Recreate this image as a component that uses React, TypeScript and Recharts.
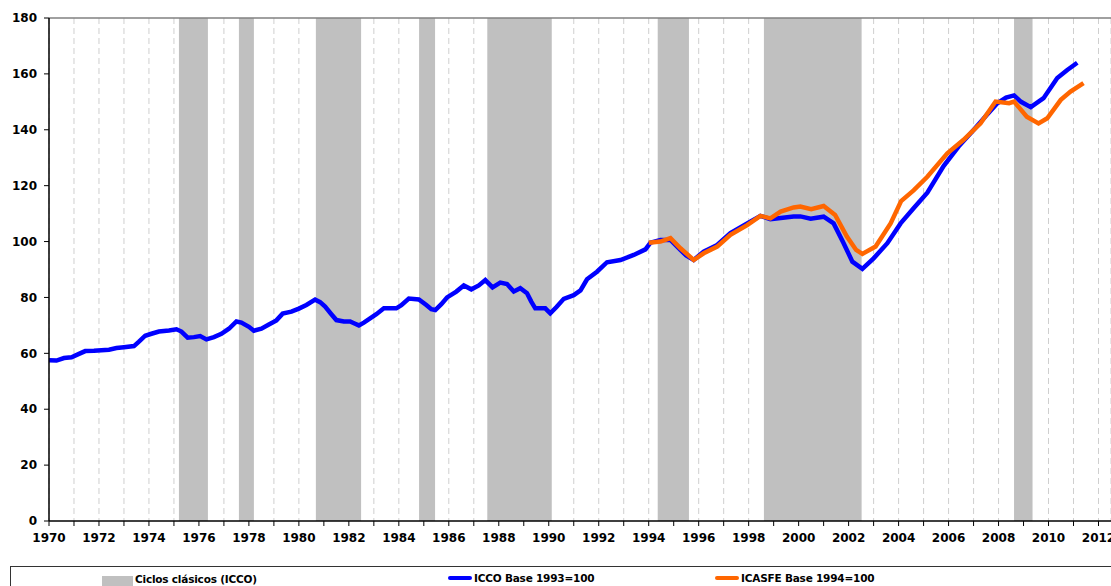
import React from 'react';
import {
  LineChart,
  Line,
  XAxis,
  YAxis,
  CartesianGrid,
  ReferenceArea,
  ReferenceLine,
  Legend,
} from 'recharts';

// ICCO (Base 1993=100)
const iccoYears = [
  1970.0, 1970.3, 1970.6, 1970.9, 1971.2, 1971.45, 1971.8, 1972.1, 1972.4, 1972.7,
  1973.0, 1973.4, 1973.6, 1973.85, 1974.1, 1974.4, 1974.8, 1975.1, 1975.3, 1975.55,
  1975.8, 1976.05, 1976.3, 1976.6, 1976.9, 1977.2, 1977.5, 1977.7, 1978.0, 1978.2,
  1978.5, 1978.8, 1979.1, 1979.35, 1979.7, 1980.0, 1980.3, 1980.65, 1980.85, 1981.05,
  1981.3, 1981.5, 1981.8, 1982.05, 1982.25, 1982.4, 1982.6, 1982.85, 1983.1, 1983.4,
  1983.9, 1984.1, 1984.4, 1984.8, 1985.1, 1985.3, 1985.46, 1985.7, 1985.93, 1986.3,
  1986.6, 1986.9, 1987.2, 1987.46, 1987.75, 1988.06, 1988.33, 1988.6, 1988.86, 1989.13,
  1989.3, 1989.46, 1989.86, 1990.06, 1990.3, 1990.6, 1991.0, 1991.27, 1991.53, 1991.93,
  1992.33, 1992.87, 1993.4, 1993.87, 1994.07, 1994.47, 1994.87, 1995.27, 1995.5, 1995.8,
  1996.2, 1996.74, 1997.27, 1997.94, 1998.47, 1998.87, 1999.28, 1999.8, 2000.07, 2000.48,
  2001.0, 2001.4, 2001.8, 2002.15, 2002.55, 2003.0, 2003.55, 2004.08, 2004.6, 2005.15,
  2005.8, 2006.4, 2007.0, 2007.5, 2007.95, 2008.3, 2008.62, 2008.9, 2009.29, 2009.8,
  2010.35, 2010.75, 2011.15,
];
const iccoValues = [
  57.5, 57.4, 58.3, 58.6, 59.8, 60.8, 60.9, 61.1, 61.3, 61.9,
  62.2, 62.6, 64.2, 66.3, 67.0, 67.8, 68.2, 68.6, 67.8, 65.6,
  65.8, 66.2, 65.0, 65.8, 67.0, 68.8, 71.4, 71.0, 69.5, 68.1,
  68.8, 70.3, 71.8, 74.2, 74.9, 76.0, 77.3, 79.2, 78.3, 76.7,
  74.0, 71.9, 71.4, 71.4, 70.6, 70.0, 71.0, 72.5, 74.0, 76.1,
  76.1, 77.2, 79.6, 79.3, 77.3, 75.8, 75.5, 77.6, 80.0, 82.1,
  84.3, 82.9, 84.3, 86.2, 83.6, 85.3, 84.8, 82.1, 83.3, 81.5,
  78.5, 76.1, 76.1, 74.3, 76.5, 79.5, 80.8, 82.5, 86.5, 89.2,
  92.6, 93.4, 95.2, 97.2, 99.6, 100.6, 100.6, 97.0, 95.0, 93.4,
  96.4, 98.8, 103.0, 106.5, 109.2, 108.0, 108.4, 109.0, 109.0, 108.2,
  108.9, 106.5, 99.4, 92.8, 90.2, 94.0, 99.4, 106.5, 111.9, 117.5,
  127.0, 134.0, 139.9, 145.0, 149.5, 151.5, 152.3, 150.0, 148.1, 151.3,
  158.5, 161.4, 164.0,
];

// ICASFE (Base 1994=100)
const icasfeYears = [
  1994.0, 1994.47, 1994.87, 1995.27, 1995.8, 1996.2, 1996.74, 1997.27, 1997.94, 1998.47,
  1998.87, 1999.28, 1999.8, 2000.07, 2000.5, 2001.0, 2001.46, 2001.93, 2002.3, 2002.55,
  2003.08, 2003.68, 2004.1, 2004.6, 2005.15, 2005.95, 2006.6, 2007.28, 2007.88, 2008.42,
  2008.62, 2009.13, 2009.6, 2009.95, 2010.49, 2010.88, 2011.4,
];
const icasfeValues = [
  99.6, 100.0, 101.2, 97.6, 93.4, 95.8, 98.2, 102.4, 105.9, 109.2,
  108.3, 110.7, 112.2, 112.5, 111.6, 112.7, 109.5, 101.8, 97.0, 95.6,
  98.2, 106.5, 114.5, 118.3, 123.2, 131.6, 136.4, 142.3, 150.1, 149.5,
  150.1, 144.7, 142.3, 144.1, 150.7, 153.7, 156.7,
];

// classic cycles (recessions) shaded in grey
const cycleStarts = [1975.2, 1977.6, 1980.68, 1984.81, 1987.54, 1994.36, 1998.61, 2008.62];
const cycleEnds = [1976.36, 1978.2, 1982.49, 1985.45, 1990.12, 1995.61, 2002.52, 2009.36];

const yearTicks = Array.from({ length: 43 }, (_, i) => 1970 + i);
const valueTicks = [0, 20, 40, 60, 80, 100, 120, 140, 160, 180];

const iccoData = iccoYears.map((year, i) => ({ year, icco: iccoValues[i] }));
const icasfeData = icasfeYears.map((year, i) => ({ year, icasfe: icasfeValues[i] }));

const FONT = '"DejaVu Sans", Verdana, sans-serif';
const tickStyle = { fill: '#000', fontSize: 12, fontWeight: 700, fontFamily: FONT };

const LegendBox = () => (
  <div style={{ position: 'relative', width: 1111, height: 20, overflow: 'hidden' }}>
    <div
      style={{
        position: 'absolute',
        left: 10,
        top: 0,
        width: 1110,
        height: 40,
        border: '1px solid #333',
        boxSizing: 'border-box',
      }}
    />
    {[
      { x: 102, label: 'Ciclos clásicos (ICCO)', kind: 'area', color: '#C0C0C0' },
      { x: 448, label: 'ICCO Base 1993=100', kind: 'line', color: '#0000FF' },
      { x: 715, label: 'ICASFE Base 1994=100', kind: 'line', color: '#FF6600' },
    ].map((item) => (
      <div
        key={item.label}
        style={{
          position: 'absolute',
          left: item.x,
          top: 6,
          display: 'flex',
          alignItems: 'center',
          fontFamily: FONT,
          fontWeight: 700,
          fontSize: 10.5,
          letterSpacing: -0.2,
          color: '#000',
          whiteSpace: 'nowrap',
        }}
      >
        {item.kind === 'area' ? (
          <span style={{ display: 'inline-block', width: 31, height: 10, background: item.color, marginRight: 2, marginTop: 4 }} />
        ) : (
          <span style={{ display: 'inline-block', width: 24, height: 4, borderRadius: 2, background: item.color, marginRight: 2 }} />
        )}
        <span>{item.label}</span>
      </div>
    ))}
  </div>
);

export default function App() {
  return (
    <div style={{ position: 'absolute', left: 0, top: 0, width: 1111, height: 586, background: '#fff' }}>
      <LineChart width={1111} height={586} margin={{ top: 18, right: 0, bottom: 0, left: 0 }}>
        <CartesianGrid horizontal={false} stroke="#cfcfcf" strokeDasharray="6 4" />
        {cycleStarts.map((start, i) => (
          <ReferenceArea
            key={start}
            x1={start}
            x2={cycleEnds[i]}
            y1={0}
            y2={180}
            fill="#C0C0C0"
            fillOpacity={1}
            stroke="none"
          />
        ))}
        <ReferenceLine y={180} stroke="#808080" strokeWidth={1.5} />
        <XAxis
          dataKey="year"
          type="number"
          domain={[1970, 2012.5]}
          ticks={yearTicks}
          interval={0}
          allowDataOverflow
          tickFormatter={(v: number) => (v % 2 === 0 ? String(v) : '')}
          tick={tickStyle}
          tickSize={5}
          tickMargin={7}
          height={45}
          stroke="#000"
          tickLine={{ stroke: '#000' }}
          axisLine={{ stroke: '#000', strokeWidth: 1.5 }}
        />
        <YAxis
          type="number"
          domain={[0, 180]}
          ticks={valueTicks}
          interval={0}
          width={49}
          tick={tickStyle}
          tickSize={5}
          tickMargin={7}
          tickLine={{ stroke: '#000' }}
          axisLine={{ stroke: '#000', strokeWidth: 1.5 }}
        />
        <Legend verticalAlign="bottom" align="left" content={() => <LegendBox />} wrapperStyle={{ left: 0, width: 1111 }} />
        <Line
          data={iccoData}
          dataKey="icco"
          type="linear"
          stroke="#0000FF"
          strokeWidth={4.5}
          dot={false}
          isAnimationActive={false}
        />
        <Line
          data={icasfeData}
          dataKey="icasfe"
          type="linear"
          stroke="#FF6600"
          strokeWidth={4.5}
          dot={false}
          isAnimationActive={false}
        />
      </LineChart>
    </div>
  );
}
